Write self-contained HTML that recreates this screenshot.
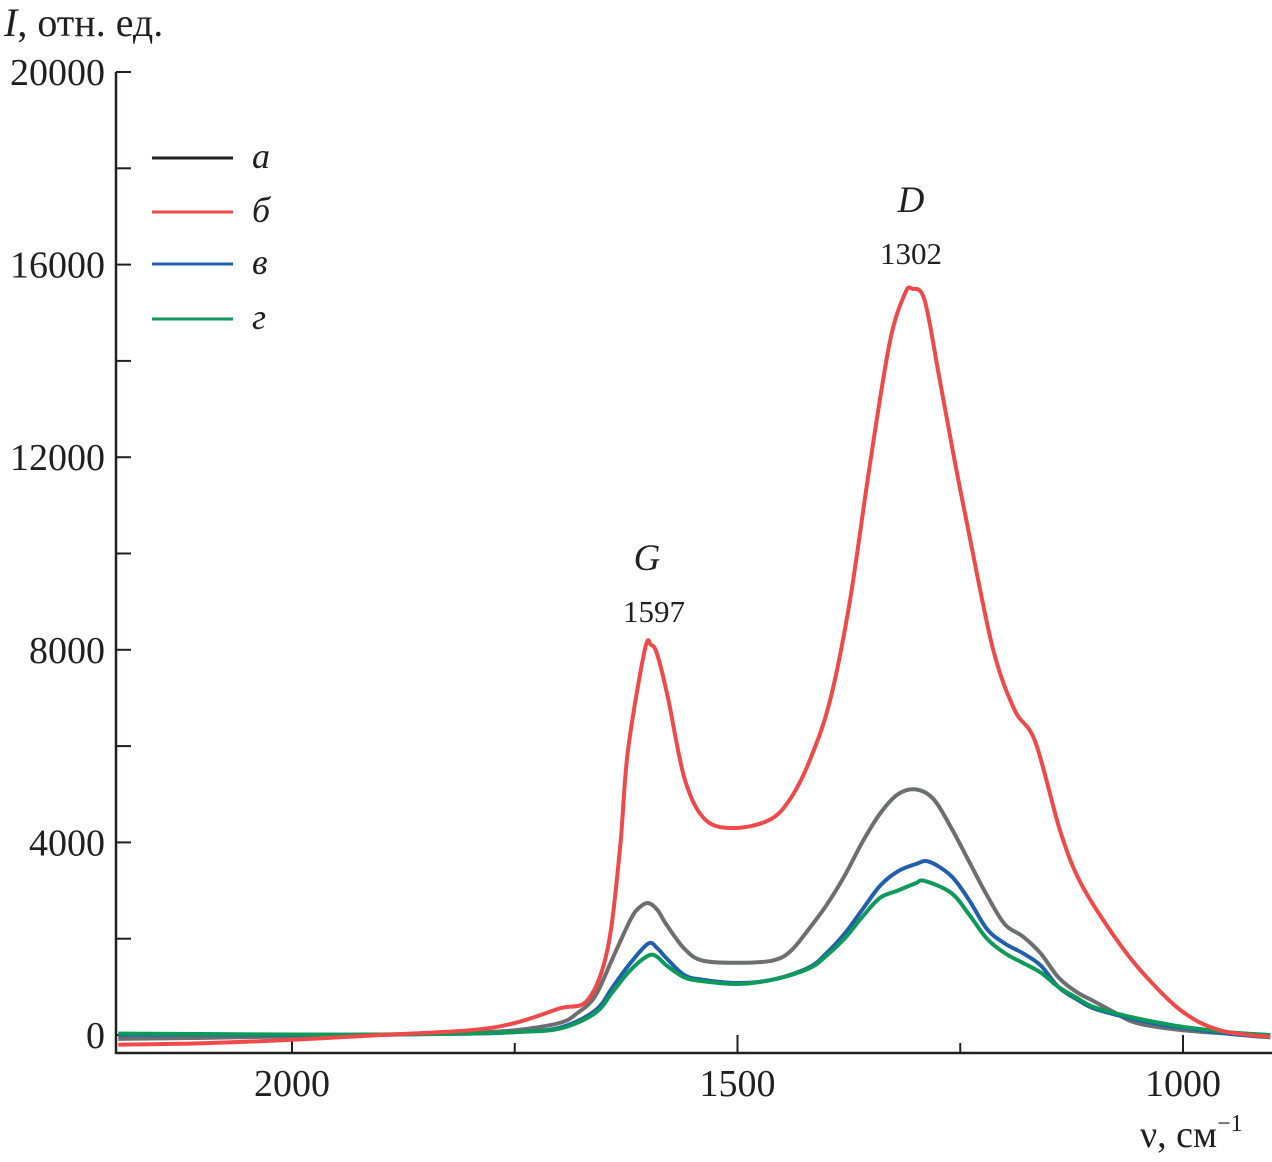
<!DOCTYPE html>
<html><head><meta charset="utf-8"><style>
body{margin:0;background:#fff;}
svg text{font-family:"Liberation Serif",serif;fill:#231f20;}
</style></head><body>
<svg id="chart" width="1272" height="1157" viewBox="0 0 1272 1157" xmlns="http://www.w3.org/2000/svg">
<g id="axes"></g>
<g id="series"></g>
<g>
 <line x1="152" y1="158" x2="233" y2="158" stroke="#231f20" stroke-width="3"/>
 <text x="252" y="168" font-size="36" font-style="italic">а</text>
 <line x1="152" y1="212" x2="233" y2="212" stroke="#ef4a4a" stroke-width="3"/>
 <text x="252" y="222" font-size="36" font-style="italic">б</text>
 <line x1="152" y1="264" x2="233" y2="264" stroke="#1f5fad" stroke-width="3"/>
 <text x="252" y="274" font-size="36" font-style="italic">в</text>
 <line x1="152" y1="319" x2="233" y2="319" stroke="#0e9a5a" stroke-width="3"/>
 <text x="252" y="329" font-size="36" font-style="italic">г</text>
</g>
<text x="4" y="36" font-size="40"><tspan font-style="italic">I</tspan>, отн. ед.</text>
<text x="1140" y="1147" font-size="38">ν, см<tspan font-size="24" dy="-16">−1</tspan></text>
<text x="647" y="570" font-size="37" font-style="italic" text-anchor="middle">G</text>
<text x="654" y="622" font-size="31" text-anchor="middle">1597</text>
<text x="911" y="212" font-size="37" font-style="italic" text-anchor="middle">D</text>
<text x="911" y="264" font-size="31" text-anchor="middle">1302</text>
</svg>
<script>
const xTicks=[2000,1500,1000];
const xMinor=[1750,1250];
const yTicks=[0,4000,8000,12000,16000,20000];
const yMinor=[2000,6000,10000,14000,18000];
const wnA=[2195,2100,2000,1900,1800,1750,1700,1680,1660,1640,1620,1610,1600,1590,1580,1560,1540,1500,1460,1440,1420,1400,1380,1360,1340,1320,1300,1280,1260,1240,1220,1200,1180,1160,1140,1120,1100,1080,1060,1040,1000,950,902];
const valA=[-80,-60,-30,0,50,100,250,450,800,1600,2400,2650,2740,2600,2300,1800,1550,1500,1550,1750,2200,2700,3300,4000,4600,5000,5100,4900,4300,3600,2900,2300,2050,1700,1200,900,700,500,300,200,100,30,0];
const wnB=[2195,2100,2000,1900,1800,1750,1700,1668,1646,1632,1623,1604,1597,1590,1578,1559,1536,1503,1464,1441,1419,1396,1374,1351,1329,1312,1304,1290,1273,1256,1239,1213,1189,1166,1138,1116,1082,1048,1003,959,902];
const valB=[-200,-170,-100,0,100,250,550,730,1770,3850,5900,8000,8100,7900,7000,5300,4470,4300,4470,4900,5700,6960,9000,11900,14400,15400,15500,15260,13600,11900,10300,8000,6750,6100,4250,3200,2180,1350,520,100,-40];
const wnV=[2195,2100,2000,1900,1800,1750,1700,1660,1640,1620,1600,1590,1580,1560,1540,1500,1460,1420,1400,1380,1360,1340,1320,1300,1285,1260,1240,1220,1200,1180,1160,1140,1120,1100,1060,1020,1000,950,902];
const valV=[0,10,0,10,30,60,150,500,1000,1500,1900,1800,1600,1250,1150,1080,1150,1400,1700,2100,2600,3100,3400,3550,3600,3300,2800,2200,1900,1700,1450,1000,750,550,350,200,150,30,-50];
const wnG=[2195,2100,2000,1900,1800,1750,1700,1660,1640,1620,1600,1590,1580,1560,1540,1500,1460,1420,1400,1380,1360,1340,1320,1300,1290,1260,1240,1220,1200,1180,1160,1140,1120,1100,1060,1020,1000,950,902];
const valG=[30,20,10,10,30,60,130,450,900,1350,1650,1620,1450,1200,1120,1060,1150,1380,1650,2000,2450,2850,3000,3150,3200,2950,2500,2000,1700,1500,1300,1000,780,580,380,230,170,60,0];

const X=v=>292+(2000-v)*0.891;
const Y=i=>1035-i*192.6/4000;
const NS="http://www.w3.org/2000/svg";
const ax=document.getElementById('axes');
function mk(tag,attrs,parent){const e=document.createElementNS(NS,tag);for(const k in attrs)e.setAttribute(k,attrs[k]);parent.appendChild(e);return e;}
let l=mk('line',{x1:116,y1:72,x2:116,y2:1054,stroke:'#231f20','stroke-width':2.5},ax);


l=mk('line',{x1:115,y1:1053,x2:1272,y2:1053,stroke:'#231f20','stroke-width':2.5},ax);


yTicks.forEach(t=>{
 const tk=mk('line',{x1:116,y1:Y(t),x2:131,y2:Y(t),stroke:'#231f20','stroke-width':2},ax);
 
 
 const tx=mk('text',{x:105,y:Y(t)+13,'font-size':38,'text-anchor':'end'},ax);
 tx.textContent=t;
 
 
});
yMinor.forEach(t=>{
 const tk=mk('line',{x1:116,y1:Y(t),x2:131,y2:Y(t),stroke:'#231f20','stroke-width':2},ax);
 
 
});
xTicks.forEach(t=>{
 const tk=mk('line',{x1:X(t),y1:1053,x2:X(t),y2:1035,stroke:'#231f20','stroke-width':2},ax);
 
 
 const tx=mk('text',{x:X(t),y:1096,'font-size':38,'text-anchor':'middle'},ax);
 tx.textContent=t;
 
 
});
xMinor.forEach(t=>{
 const tk=mk('line',{x1:X(t),y1:1053,x2:X(t),y2:1043,stroke:'#231f20','stroke-width':2},ax);
 
 
});
const sg=document.getElementById('series');
function path(wn,val,color,name){
 const P=wn.map((w,i)=>[X(w),Y(val[i])]);
 let d='M'+P[0][0].toFixed(1)+','+P[0][1].toFixed(1);
 for(let i=0;i<P.length-1;i++){
  const p0=P[i-1]||P[i],p1=P[i],p2=P[i+1],p3=P[i+2]||P[i+1];
  const c1=[p1[0]+(p2[0]-p0[0])/6,p1[1]+(p2[1]-p0[1])/6];
  const c2=[p2[0]-(p3[0]-p1[0])/6,p2[1]-(p3[1]-p1[1])/6];
  d+=' C'+c1.map(v=>v.toFixed(1)).join(',')+' '+c2.map(v=>v.toFixed(1)).join(',')+' '+p2.map(v=>v.toFixed(1)).join(',');
 }
 const p=mk('path',{d:d,fill:'none',stroke:color,'stroke-width':4,'stroke-linejoin':'round'},sg);
 
 
}
path(wnA,valA,'#6d6e71','series-a-line');
path(wnV,valV,'#1f5fad','series-v-line');
path(wnG,valG,'#0e9a5a','series-g-line');
path(wnB,valB,'#ef4a4a','series-b-line');
</script>
</body></html>
